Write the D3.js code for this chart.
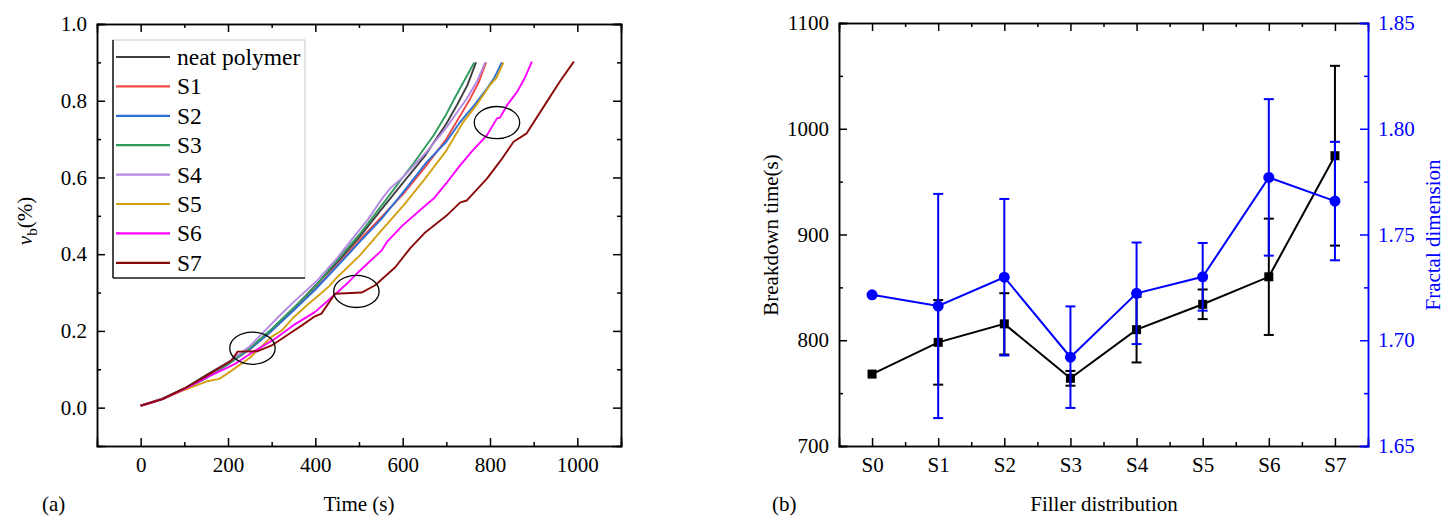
<!DOCTYPE html>
<html>
<head>
<meta charset="utf-8">
<script src="https://cdnjs.cloudflare.com/ajax/libs/d3/7.8.5/d3.min.js"></script>
<style>
  body { margin: 0; background: #fff; }
  .axis path, .axis line { stroke: #000; stroke-width: 1.5; }
  .blue path, .blue line { stroke: #0000ff; }
</style>
</head>
<body>
<div id="chart"></div>
<script>
// ---- data: panel (a), [time (s), v_b (%)]
var neatPolymer = [[0,0.005],[50,0.024],[100,0.05],[150,0.085],[200,0.118],[250,0.153],[300,0.203],[350,0.258],[400,0.318],[450,0.378],[500,0.443],[550,0.515],[600,0.585],[650,0.655],[700,0.74],[725,0.79],[748,0.84],[768,0.9]];
var s1 = [[0,0.005],[50,0.022],[100,0.048],[150,0.078],[200,0.114],[250,0.152],[300,0.2],[350,0.255],[400,0.31],[450,0.37],[500,0.435],[550,0.495],[600,0.555],[650,0.625],[700,0.7],[755,0.806],[775,0.85],[791,0.9]];
var s2 = [[0,0.005],[50,0.022],[100,0.048],[150,0.077],[200,0.113],[250,0.152],[300,0.2],[350,0.253],[400,0.308],[450,0.368],[500,0.43],[550,0.49],[600,0.56],[655,0.64],[700,0.693],[732,0.745],[765,0.79],[793,0.832],[810,0.86],[827,0.9]];
var s3 = [[0,0.005],[50,0.022],[100,0.048],[150,0.078],[200,0.113],[250,0.155],[300,0.205],[350,0.26],[400,0.316],[450,0.385],[500,0.45],[556,0.533],[600,0.6],[625,0.637],[671,0.71],[700,0.765],[716,0.8],[740,0.85],[764,0.9]];
var s4 = [[0,0.005],[50,0.022],[100,0.048],[150,0.08],[200,0.118],[250,0.16],[307,0.227],[350,0.275],[403,0.33],[450,0.39],[479,0.432],[520,0.49],[555,0.548],[571,0.571],[600,0.6],[655,0.667],[700,0.73],[747,0.806],[770,0.85],[789,0.9]];
var s5 = [[0,0.005],[50,0.022],[100,0.046],[150,0.068],[180,0.075],[200,0.09],[250,0.13],[300,0.185],[323,0.201],[350,0.235],[384,0.27],[410,0.295],[433,0.318],[450,0.34],[502,0.397],[550,0.46],[602,0.527],[650,0.595],[700,0.67],[739,0.745],[770,0.79],[800,0.841],[815,0.86],[831,0.9]];
var s6 = [[0,0.005],[50,0.022],[100,0.048],[150,0.078],[200,0.105],[216,0.114],[250,0.14],[307,0.179],[350,0.215],[399,0.249],[450,0.3],[476,0.327],[500,0.355],[552,0.41],[564,0.432],[600,0.475],[650,0.525],[671,0.545],[700,0.585],[732,0.632],[760,0.67],[793,0.71],[816,0.754],[823,0.756],[840,0.79],[862,0.823],[880,0.86],[896,0.902]];
var s7 = [[0,0.005],[50,0.022],[100,0.05],[150,0.082],[208,0.123],[222,0.146],[268,0.147],[300,0.162],[337,0.19],[370,0.215],[399,0.238],[414,0.245],[445,0.297],[506,0.3],[537,0.319],[583,0.366],[617,0.415],[650,0.455],[700,0.5],[732,0.535],[747,0.54],[793,0.597],[825,0.645],[854,0.693],[884,0.715],[930,0.797],[960,0.85],[992,0.902]];
var seriesNames = ["neat polymer", "S1", "S2", "S3", "S4", "S5", "S6", "S7"];
var seriesData = [neatPolymer, s1, s2, s3, s4, s5, s6, s7];
// annotation ellipses: [time, v_b]
var ellipseCenters = [[256, 0.155], [494, 0.303], [816, 0.743]];

var xTicksA = [0, 200, 400, 600, 800, 1000];
var xMinorA = [100, 300, 500, 700, 900];
var yTicksA = [0, 0.2, 0.4, 0.6, 0.8, 1.0];
var yMinorA = [0.1, 0.3, 0.5, 0.7, 0.9];

// ---- data: panel (b)
var categories = ["S0", "S1", "S2", "S3", "S4", "S5", "S6", "S7"];
var breakdownTime = [768, 798, 815.5, 764, 810, 834, 860, 974.5];
var breakdownErr = [0, 40, 29, 7, 31, 14, 55, 85];
var fractalDim = [1.7215, 1.7162, 1.7298, 1.692, 1.7222, 1.730, 1.777, 1.7658];
var fractalErr = [0, 0.053, 0.037, 0.024, 0.024, 0.016, 0.037, 0.028];

var yTicksB = [700, 800, 900, 1000, 1100];
var yMinorB = [750, 850, 950, 1050];
var y2TicksB = [1.65, 1.70, 1.75, 1.80, 1.85];
var y2MinorB = [1.675, 1.725, 1.775, 1.825];

// ---- setup
var svgWidth = 1454;
var svgHeight = 526;
var serif = "Liberation Serif";
var colors = ["#404040", "#f04848", "#2a6fd8", "#2e9a5c", "#b48ae4", "#d4a010", "#ff00ff", "#8b0b0b"];

var svg = d3.select("#chart")
  .append("svg")
  .attr("width", svgWidth)
  .attr("height", svgHeight)
  .attr("font-family", serif);

var majorLen = 8, minorLen = 4;

// ================= panel (a) =================
var xA = d3.scaleLinear().domain([-100, 1100]).range([97, 621]);
var yA = d3.scaleLinear().domain([-0.1, 1.0]).range([446, 24]);

function addAxis(g, axis, tx, ty, cls) {
  var a = g.append("g")
    .attr("class", cls || "axis")
    .attr("transform", `translate(${tx},${ty})`)
    .call(axis);
  a.attr("font-family", serif).attr("font-size", 21);
  a.select("path").attr("stroke-linecap", "square");
  return a;
}

function frameAxes(g, x, y, xt, xm, yt, ym, xfmt, yfmt) {
  var top = y.range()[1], bottom = y.range()[0];
  var left = x.range()[0];
  addAxis(g, d3.axisBottom(x).tickValues(xt).tickSize(-majorLen).tickPadding(11).tickFormat(xfmt), 0, bottom);
  addAxis(g, d3.axisBottom(x).tickValues(xm).tickSize(-minorLen).tickFormat(""), 0, bottom);
  addAxis(g, d3.axisTop(x).tickValues(xt).tickSize(-majorLen).tickFormat(""), 0, top);
  addAxis(g, d3.axisTop(x).tickValues(xm).tickSize(-minorLen).tickFormat(""), 0, top);
  addAxis(g, d3.axisLeft(y).tickValues(yt).tickSize(-majorLen).tickPadding(10).tickFormat(yfmt), left, 0);
  addAxis(g, d3.axisLeft(y).tickValues(ym).tickSize(-minorLen).tickFormat(""), left, 0);
}

var gA = svg.append("g");

var line = d3.line()
  .x(d => xA(d[0]))
  .y(d => yA(d[1]));

seriesData.forEach(function(data, i) {
  gA.append("path")
    .datum(data)
    .attr("d", line)
    .attr("fill", "none")
    .attr("stroke", colors[i])
    .attr("stroke-width", 1.9)
    .attr("stroke-linejoin", "round");
});

// ellipses
gA.selectAll(".ring")
  .data(ellipseCenters)
  .enter()
  .append("ellipse")
  .attr("cx", d => xA(d[0]))
  .attr("cy", d => yA(d[1]))
  .attr("rx", xA(52) - xA(0))
  .attr("ry", yA(0) - yA(0.042))
  .attr("fill", "none")
  .attr("stroke", "#000")
  .attr("stroke-width", 1.3);

frameAxes(gA, xA, yA, xTicksA, xMinorA, yTicksA, yMinorA, d3.format("d"), d3.format(".1f"));

// right frame of panel (a)
addAxis(gA, d3.axisRight(yA).tickValues(yTicksA).tickSize(-majorLen).tickFormat(""), 621, 0);
addAxis(gA, d3.axisRight(yA).tickValues(yMinorA).tickSize(-minorLen).tickFormat(""), 621, 0);

// legend
var legend = gA.append("g");
legend.append("rect")
  .attr("x", 113).attr("y", 40).attr("width", 192).attr("height", 238)
  .attr("fill", "#fff").attr("stroke", "#c8c8c8").attr("stroke-width", 1);
legend.append("line").attr("x1", 113).attr("x2", 113).attr("y1", 40).attr("y2", 278)
  .attr("stroke", "#222").attr("stroke-width", 1.6);
legend.append("line").attr("x1", 113).attr("x2", 305).attr("y1", 278).attr("y2", 278)
  .attr("stroke", "#222").attr("stroke-width", 1.6);

seriesNames.forEach(function(name, i) {
  var ly = 57 + i * 29.4;
  legend.append("line")
    .attr("x1", 116).attr("x2", 170).attr("y1", ly).attr("y2", ly)
    .attr("stroke", colors[i]).attr("stroke-width", 2.2);
  legend.append("text")
    .attr("x", 177).attr("y", ly).attr("dy", "0.34em")
    .attr("font-family", serif)
    .attr("font-size", 23.5)
    .text(name);
});

// axis titles (a)
svg.append("text")
  .attr("x", 359).attr("y", 511)
  .attr("text-anchor", "middle")
  .attr("font-size", 21)
  .text("Time (s)");
svg.append("text")
  .attr("x", 42).attr("y", 511)
  .attr("font-size", 21)
  .text("(a)");
var ylab = svg.append("text")
  .attr("transform", "translate(32,221) rotate(-90)")
  .attr("text-anchor", "middle")
  .attr("font-size", 21);
ylab.append("tspan").attr("font-style", "italic").text("v");
ylab.append("tspan").attr("font-size", 15).attr("dy", "5").text("b");
ylab.append("tspan").attr("dy", "-5").text("(%)");

// ================= panel (b) =================
var xB = d3.scaleLinear().domain([-0.5, 7.5]).range([839, 1368]);
var yB = d3.scaleLinear().domain([700, 1100]).range([446, 23]);
var y2B = d3.scaleLinear().domain([1.65, 1.85]).range([446, 23]);

var gB = svg.append("g");

frameAxes(gB, xB, yB, d3.range(categories.length), d3.range(categories.length - 1).map(d => d + 0.5),
  yTicksB, yMinorB, d => categories[d], d3.format("d"));

// blue right axis
addAxis(gB, d3.axisRight(y2B).tickValues(y2TicksB).tickSize(-majorLen).tickPadding(10).tickFormat(d3.format(".2f")), 1368, 0, "axis blue")
  .selectAll("text").attr("fill", "#0000ff");
addAxis(gB, d3.axisRight(y2B).tickValues(y2MinorB).tickSize(-minorLen).tickFormat(""), 1368, 0, "axis blue");

// breakdown time (black)
var lineB = d3.line()
  .x((d, i) => xB(i))
  .y(d => yB(d));
gB.append("path")
  .datum(breakdownTime)
  .attr("d", lineB)
  .attr("fill", "none")
  .attr("stroke", "#000")
  .attr("stroke-width", 2);

function errorBars(g, values, errs, yScale, color) {
  values.forEach(function(v, i) {
    if (!errs[i]) return;
    var cx = xB(i);
    var y1 = yScale(v - errs[i]), y2 = yScale(v + errs[i]);
    g.append("line").attr("x1", cx).attr("x2", cx).attr("y1", y1).attr("y2", y2)
      .attr("stroke", color).attr("stroke-width", 2);
    [y1, y2].forEach(function(yy) {
      g.append("line").attr("x1", cx - 5).attr("x2", cx + 5).attr("y1", yy).attr("y2", yy)
        .attr("stroke", color).attr("stroke-width", 2);
    });
  });
}
errorBars(gB, breakdownTime, breakdownErr, yB, "#000");

gB.selectAll(".sq")
  .data(breakdownTime)
  .enter()
  .append("rect")
  .attr("x", (d, i) => xB(i) - 4.5)
  .attr("y", d => yB(d) - 4.5)
  .attr("width", 9)
  .attr("height", 9)
  .attr("fill", "#000");

// fractal dimension (blue)
var lineB2 = d3.line()
  .x((d, i) => xB(i))
  .y(d => y2B(d));
gB.append("path")
  .datum(fractalDim)
  .attr("d", lineB2)
  .attr("fill", "none")
  .attr("stroke", "#0000ff")
  .attr("stroke-width", 2);

errorBars(gB, fractalDim, fractalErr, y2B, "#0000ff");

gB.selectAll(".dot")
  .data(fractalDim)
  .enter()
  .append("circle")
  .attr("cx", (d, i) => xB(i))
  .attr("cy", d => y2B(d))
  .attr("r", 5.5)
  .attr("fill", "#0000ff");

// axis titles (b)
svg.append("text")
  .attr("x", 1104).attr("y", 511)
  .attr("text-anchor", "middle")
  .attr("font-size", 21)
  .text("Filler distribution");
svg.append("text")
  .attr("x", 772).attr("y", 511)
  .attr("font-size", 21)
  .text("(b)");
svg.append("text")
  .attr("transform", "translate(778,235) rotate(-90)")
  .attr("text-anchor", "middle")
  .attr("font-size", 21)
  .text("Breakdown time(s)");
svg.append("text")
  .attr("transform", "translate(1440,235) rotate(-90)")
  .attr("text-anchor", "middle")
  .attr("font-size", 21)
  .attr("fill", "#0000ff")
  .text("Fractal dimension");
</script>
</body>
</html>
